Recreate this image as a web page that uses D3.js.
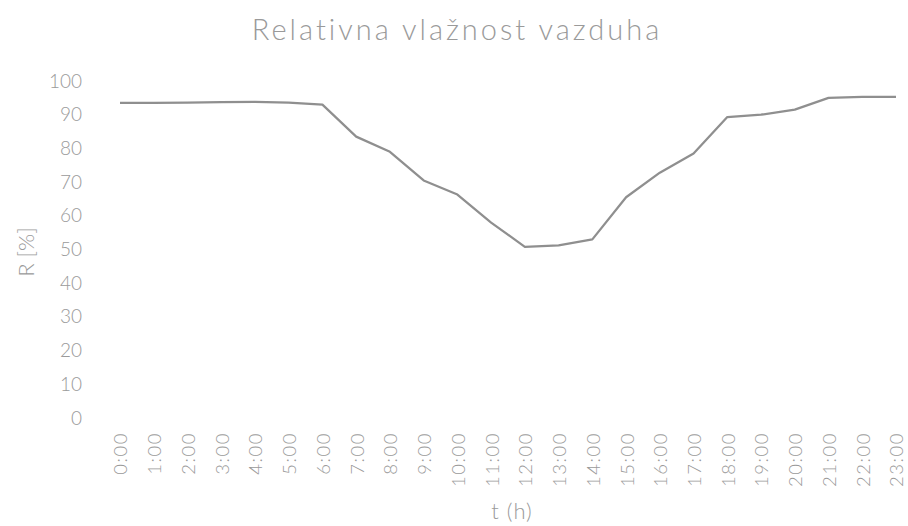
<!DOCTYPE html>
<html>
<head>
<meta charset="utf-8">
<script src="https://cdn.jsdelivr.net/npm/d3@7"></script>
<style>
  html, body { margin: 0; padding: 0; background: #fff; }
  svg { display: block; }
  text { font-family: "Lato", "Open Sans", sans-serif; }
</style>
</head>
<body>
<svg id="chart" width="908" height="526"></svg>
<script>
const title = "Relativna vlažnost vazduha";
const categories = ["0:00","1:00","2:00","3:00","4:00","5:00","6:00","7:00","8:00","9:00","10:00","11:00",
  "12:00","13:00","14:00","15:00","16:00","17:00","18:00","19:00","20:00","21:00","22:00","23:00"];
const humidity = [93.5, 93.5, 93.6, 93.7, 93.8, 93.6, 93.0, 83.5, 79.0, 70.5, 66.3, 58.0,
  50.8, 51.2, 53.0, 65.5, 72.8, 78.5, 89.3, 90.0, 91.5, 95.0, 95.3, 95.3];
const yTicks = [0, 10, 20, 30, 40, 50, 60, 70, 80, 90, 100];
const yLabel = "R [%]";
const xLabel = "t (h)";

const svg = d3.select("#chart");
const textColor = "#9a9a9a";
const lineColor = "#8f8f8f";

const x = d3.scalePoint().domain(categories).range([120, 896]);
const y = d3.scaleLinear().domain([0, 100]).range([418, 81]);

// Title
svg.append("text")
  .attr("x", 457).attr("y", 40)
  .attr("text-anchor", "middle")
  .attr("font-size", 29).attr("font-weight", 300)
  .attr("letter-spacing", 3)
  .attr("fill", textColor)
  .text(title);

// Y axis
const yAxis = d3.axisLeft(y).tickValues(yTicks).tickSize(0).tickPadding(0);
const gy = svg.append("g").attr("transform", "translate(82,0)").call(yAxis);
gy.select(".domain").remove();
gy.selectAll("text").attr("fill", textColor).attr("font-size", 19).attr("font-weight", 300)
  .style("font-family", "Lato, sans-serif");

// X axis
const xAxis = d3.axisBottom(x).tickSize(0).tickPadding(0);
const gx = svg.append("g").attr("transform", "translate(0,432)").call(xAxis);
gx.select(".domain").remove();
gx.selectAll("text")
  .attr("fill", textColor).attr("font-size", 18.5).attr("font-weight", 300)
  .attr("letter-spacing", 1.5)
  .style("font-family", "Lato, sans-serif")
  .attr("text-anchor", "end")
  .attr("transform", "translate(1,0) rotate(-90)")
  .attr("x", 0).attr("y", 0).attr("dy", "0.32em");

// Axis titles
svg.append("text")
  .attr("transform", "translate(26,252) rotate(-90)")
  .attr("text-anchor", "middle")
  .attr("dy", "0.35em")
  .attr("font-size", 22).attr("font-weight", 300)
  .attr("fill", textColor)
  .text(yLabel);

svg.append("text")
  .attr("x", 512).attr("y", 519)
  .attr("text-anchor", "middle")
  .attr("font-size", 22).attr("font-weight", 300)
  .attr("letter-spacing", 1)
  .attr("fill", textColor)
  .text(xLabel);

// Line
const line = d3.line()
  .x((d, i) => x(categories[i]))
  .y(d => y(d));

svg.append("path")
  .datum(humidity)
  .attr("fill", "none")
  .attr("stroke", lineColor)
  .attr("stroke-width", 2.25)
  .attr("stroke-linejoin", "round")
  .attr("d", line);
</script>
</body>
</html>
